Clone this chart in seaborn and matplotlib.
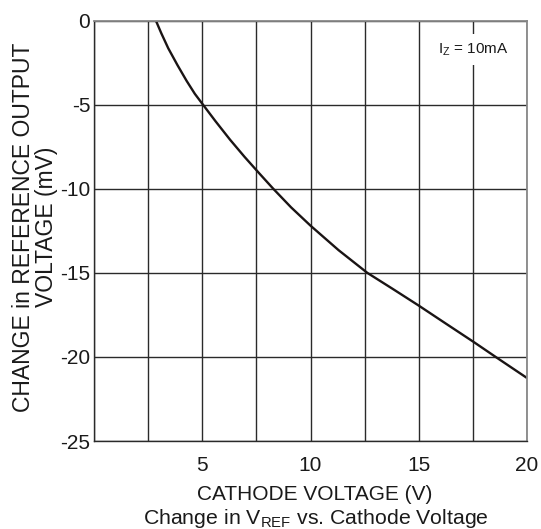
import matplotlib
matplotlib.use("Agg")
import matplotlib.pyplot as plt
import seaborn as sns
import pandas as pd
import numpy as np

cathode_v = [2.85, 3.1, 3.42, 3.85, 4.27, 4.65, 5.03, 5.6, 6.28, 6.95, 7.63, 8.28, 9.1, 10.0, 11.3, 12.63, 13.8, 15.0, 16.3, 17.56, 18.6, 20.0]
delta_vref = [0.0, -0.75, -1.64, -2.65, -3.58, -4.35, -5.0, -5.97, -7.08, -8.1, -9.08, -10.0, -11.1, -12.19, -13.65, -15.0, -15.95, -16.94, -18.05, -19.12, -20.03, -21.24]
x_ticks = [5, 10, 15, 20]
y_ticks = [0, -5, -10, -15, -20, -25]

sns.set_theme(style="white")
plt.rcParams['font.family'] = ['Liberation Sans', 'DejaVu Sans']
plt.rcParams['mathtext.fontset'] = 'custom'
plt.rcParams['mathtext.rm'] = 'Liberation Sans'

df = pd.DataFrame({"v": cathode_v, "d": delta_vref})

fig = plt.figure(figsize=(5.41, 5.29), dpi=100)
ax = fig.add_axes([0.1743, 0.1663, 0.9736 - 0.1743, 0.9609 - 0.1663])
sns.lineplot(data=df, x="v", y="d", ax=ax, color="#1a1414", linewidth=1.7, sort=False)

ax.set_xlim(0, 20)
ax.set_ylim(-25, 0)
ax.set_xticks(x_ticks)
ax.set_xticks(np.arange(0, 20.01, 2.5), minor=True)
ax.set_yticks(y_ticks)
ax.set_xticklabels([str(t) for t in x_ticks], fontsize=15)
ax.set_yticklabels([str(t) for t in y_ticks], fontsize=15)
ax.tick_params(axis='both', which='both', length=0, colors="#1a1a1a")
ax.tick_params(axis='x', pad=11)
ax.tick_params(axis='y', pad=3)
ax.grid(True, which='both', axis='x', color="#2a2a2a", linewidth=1.0)
ax.grid(True, which='major', axis='y', color="#2a2a2a", linewidth=1.0)
ax.set_axisbelow(True)
for s in ax.spines.values():
    s.set_color("#888888")
    s.set_linewidth(1.3)
ax.spines['left'].set_color("#2a2a2a")
ax.spines['left'].set_linewidth(1.0)
ax.spines['bottom'].set_color("#2a2a2a")
ax.spines['bottom'].set_linewidth(1.0)

ax.set_xlabel("CATHODE VOLTAGE (V)", fontsize=15, color="#1a1a1a")
ax.xaxis.label.set_va('baseline')
ax.xaxis.set_label_coords(0.51, -0.1404)
ax.set_ylabel("CHANGE in REFERENCE OUTPUT\nVOLTAGE (mV)", fontsize=16.5, color="#1a1a1a", linespacing=0.98)
ax.yaxis.label.set_va('center')
ax.yaxis.set_label_coords(-0.137, 0.509)
fig.text(315.5 / 541, 1 - 524.5 / 529, r"Change in V$_{\mathrm{REF}}$ vs. Cathode Voltage", ha="center", va="baseline",
         fontsize=15.3, color="#1a1a1a")
ax.text(0.876, 0.9224, r"I$_{\mathrm{Z}}$ = 10mA", transform=ax.transAxes, ha="center", va="baseline", fontsize=11,
        color="#1a1a1a", bbox=dict(facecolor="white", edgecolor="none", pad=5))

fig.savefig("out.png", dpi=100)
